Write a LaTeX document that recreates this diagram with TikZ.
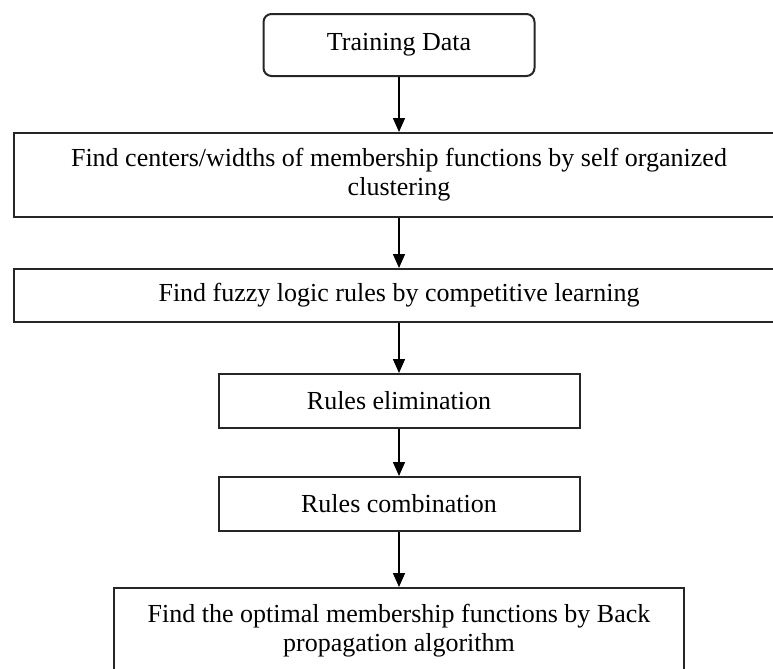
\documentclass[tikz,border=0pt]{standalone}
\usepackage{fontspec}
\setmainfont{Liberation Serif}
\usepackage{tikz}
\usetikzlibrary{arrows.meta,positioning}
\tikzset{>/.tip={Triangle[width=6pt,length=7pt]}}
\tikzset{stepbox/.style={draw=black!85,line width=1pt,align=center,inner sep=2pt}}
\colorlet{edgecol}{black}

\begin{document}
\begin{tikzpicture}[node distance=25pt,font=\fontsize{13pt}{14.5pt}\selectfont]
        \useasboundingbox (0,0) rectangle (386.5pt,-334.5pt);
        \node(train)[stepbox,rounded corners=4pt,minimum width=135.5pt,minimum height=31pt]
          at (199.5pt,-22.5pt) {Training Data};
        \node(centers)[stepbox,below=27.5pt of train,minimum width=385pt,minimum height=42pt]
          {Find centers/widths of membership functions by self organized\\ clustering};
        \node(fuzzy)[stepbox,below=of centers,minimum width=385pt,minimum height=26.5pt]
          {Find fuzzy logic rules by competitive learning};
        \node(elim)[stepbox,below=of fuzzy,minimum width=180.5pt,minimum height=27pt]
          {Rules elimination};
        \node(comb)[stepbox,below=23.5pt of elim,minimum width=180.5pt,minimum height=27pt]
          {Rules combination};
        \node(optim)[stepbox,below=27.5pt of comb,minimum width=285pt,minimum height=43pt]
          {Find the optimal membership functions by Back\\ propagation algorithm};
        \draw[->,edgecol,line width=0.8pt]
        (train) edge (centers)
        (centers) edge (fuzzy)
        (fuzzy) edge (elim)
        (elim) edge (comb)
        (comb) edge (optim);
      \end{tikzpicture}
\end{document}
